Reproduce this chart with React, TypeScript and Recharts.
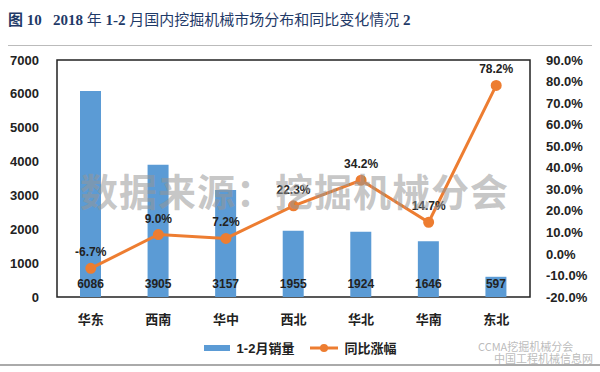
import {
  ComposedChart,
  Bar,
  Line,
  XAxis,
  YAxis,
  LabelList,
  Legend,
  ReferenceArea,
} from "recharts";

// categories and series
const regions = ["华东", "西南", "华中", "西北", "华北", "华南", "东北"];
const sales = [6086, 3905, 3157, 1955, 1924, 1646, 597];
const growth = [-6.7, 9.0, 7.2, 22.3, 34.2, 14.7, 78.2];

// axis ticks
const leftTicks = [0, 1000, 2000, 3000, 4000, 5000, 6000, 7000];
const rightTicks = [-20, -10, 0, 10, 20, 30, 40, 50, 60, 70, 80, 90];

const BLUE = "#5b9bd5";
const ORANGE = "#ed7d31";
const FONT = "'Liberation Sans', Arial, 'Noto Sans CJK SC', sans-serif";

const data = regions.map((name, i) => ({
  name,
  sales: sales[i],
  growth: growth[i],
}));

const BarValueLabel = (props: any) => {
  const { x, y, width, height, value } = props;
  return (
    <text
      x={x + width / 2}
      y={y + height - 13}
      textAnchor="middle"
      dominantBaseline="central"
      fontSize={12}
      fontWeight="bold"
      fill="#222"
      fontFamily={FONT}
    >
      {value}
    </text>
  );
};

const GrowthLabel = (props: any) => {
  const { x, y, value } = props;
  return (
    <text
      x={x}
      y={y - 16}
      textAnchor="middle"
      dominantBaseline="central"
      fontSize={12}
      fontWeight="bold"
      fill="#222"
      fontFamily={FONT}
    >
      {`${Number(value).toFixed(1)}%`}
    </text>
  );
};

const LegendContent = () => (
  <div
    style={{
      display: "flex",
      justifyContent: "center",
      alignItems: "center",
      fontFamily: FONT,
      fontSize: 13,
      fontWeight: "bold",
      color: "#222",
    }}
  >
    <span style={{ display: "inline-block", width: 26, height: 6, background: BLUE, marginRight: 7 }} />
    <span style={{ marginRight: 16 }}>1-2月销量</span>
    <svg width={28} height={10} style={{ marginRight: 6 }}>
      <line x1={0} y1={5} x2={28} y2={5} stroke={ORANGE} strokeWidth={3} />
      <circle cx={14} cy={5} r={4} fill={ORANGE} />
    </svg>
    <span>同比涨幅</span>
  </div>
);

export default function App() {
  return (
    <div
      style={{
        position: "absolute",
        left: 0,
        top: 0,
        width: 600,
        height: 372,
        background: "#fff",
        overflow: "hidden",
      }}
    >
      <div
        style={{
          position: "absolute",
          left: 8,
          top: 8,
          fontFamily: "'Liberation Serif', 'Noto Sans CJK SC', serif",
          fontSize: 15,
          color: "#1f3a68",
          whiteSpace: "pre",
        }}
      >
        <b>图 10   2018</b> 年 <b>1-2</b> 月国内挖掘机械市场分布和同比变化情况 <b>2</b>
      </div>
      <div style={{ position: "absolute", left: 8, top: 45, width: 584, height: 1, background: "#bbb" }} />
      <div style={{ position: "absolute", left: 0, top: 364, width: 600, height: 2, background: "#aaa" }} />

      <div style={{ position: "absolute", left: 0, top: 0 }}>
        <ComposedChart
          width={600}
          height={372}
          data={data}
          margin={{ top: 60, right: 10, bottom: 45, left: 7 }}
        >
          <XAxis
            dataKey="name"
            height={30}
            axisLine={false}
            tickLine={false}
            tickMargin={12}
            tick={{ fontSize: 13, fontWeight: "bold", fill: "#222", fontFamily: FONT }}
          />
          <YAxis
            yAxisId="left"
            width={50}
            domain={[0, 7000]}
            ticks={leftTicks}
            interval={0}
            axisLine={false}
            tickLine={false}
            tickMargin={12}
            tick={{ fontSize: 13, fontWeight: "bold", fill: "#222", fontFamily: FONT }}
          />
          <YAxis
            yAxisId="right"
            orientation="right"
            width={60}
            domain={[-20, 90]}
            ticks={rightTicks}
            interval={0}
            axisLine={false}
            tickLine={false}
            tickMargin={10}
            tickFormatter={(v: number) => `${v.toFixed(1)}%`}
            tick={{ fontSize: 13, fontWeight: "bold", fill: "#222", fontFamily: FONT, textAnchor: "start" }}
          />
          <ReferenceArea
            yAxisId="left"
            y1={0}
            y2={7000}
            fill="none"
            stroke="#222"
            strokeWidth={1.5}
          />
          <Bar yAxisId="left" dataKey="sales" fill={BLUE} barSize={21} isAnimationActive={false}>
            <LabelList dataKey="sales" content={BarValueLabel} />
          </Bar>
          <Line
            yAxisId="right"
            dataKey="growth"
            stroke={ORANGE}
            strokeWidth={3}
            dot={{ r: 4, fill: ORANGE, stroke: ORANGE }}
            isAnimationActive={false}
          >
            <LabelList dataKey="growth" content={GrowthLabel} />
          </Line>
          <Legend
            layout="horizontal"
            verticalAlign="middle"
            align="center"
            wrapperStyle={{ top: 338, left: 0, width: 600 }}
            content={LegendContent}
          />
        </ComposedChart>
      </div>

      {/* source watermark */}
      <div
        style={{
          position: "absolute",
          left: 80,
          top: 162,
          fontFamily: "'Noto Sans CJK SC', sans-serif",
          fontSize: 38,
          fontWeight: "bold",
          color: "rgba(150,150,150,0.55)",
          whiteSpace: "nowrap",
          letterSpacing: 1,
          pointerEvents: "none",
        }}
      >
        数据来源：挖掘机械分会
      </div>
      <div
        style={{
          position: "absolute",
          left: 478,
          top: 340,
          fontFamily: "'Noto Sans CJK SC', sans-serif",
          fontSize: 11,
          color: "rgba(170,170,170,0.8)",
          whiteSpace: "nowrap",
          lineHeight: "12px",
        }}
      >
        CCMA挖掘机械分会
        <br />
        <span style={{ marginLeft: 16 }}>中国工程机械信息网</span>
      </div>
    </div>
  );
}
